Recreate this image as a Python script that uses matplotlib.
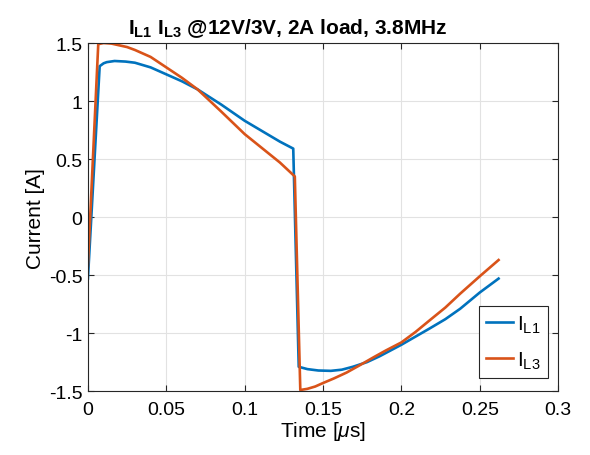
import matplotlib
matplotlib.use("Agg")
import matplotlib.pyplot as plt

# time in microseconds, current in amps
t_l1 = [0.0, 0.0075, 0.01, 0.012, 0.017, 0.024, 0.03, 0.04, 0.05, 0.06,
        0.07, 0.085, 0.1, 0.115, 0.1225, 0.131, 0.1345, 0.14, 0.147,
        0.155, 0.162, 0.169, 0.178, 0.186, 0.193, 0.2, 0.209, 0.218,
        0.228, 0.2375, 0.25, 0.262]
i_l1 = [-0.53, 1.30, 1.325, 1.335, 1.345, 1.34, 1.33, 1.29, 1.23, 1.17,
        1.10, 0.97, 0.83, 0.71, 0.65, 0.59, -1.29, -1.31, -1.322,
        -1.325, -1.315, -1.29, -1.25, -1.20, -1.15, -1.10, -1.03, -0.96,
        -0.88, -0.79, -0.65, -0.53]

t_l3 = [0.0, 0.0066, 0.01, 0.015, 0.02, 0.025, 0.03, 0.04, 0.05, 0.06,
        0.07, 0.085, 0.1, 0.1225, 0.132, 0.1355, 0.14, 0.145, 0.15,
        0.157, 0.165, 0.173, 0.182, 0.19, 0.2, 0.209, 0.218, 0.228,
        0.2375, 0.25, 0.262]
i_l3 = [-0.42, 1.49, 1.50, 1.495, 1.48, 1.465, 1.44, 1.38, 1.29, 1.20,
        1.10, 0.91, 0.715, 0.47, 0.35, -1.49, -1.48, -1.46, -1.43,
        -1.39, -1.34, -1.28, -1.21, -1.15, -1.08, -0.99, -0.89, -0.78,
        -0.66, -0.51, -0.37]

xticks = [0, 0.05, 0.1, 0.15, 0.2, 0.25, 0.3]
xticklabels = ["0", "0.05", "0.1", "0.15", "0.2", "0.25", "0.3"]
yticks = [-1.5, -1, -0.5, 0, 0.5, 1, 1.5]
yticklabels = ["-1.5", "-1", "-0.5", "0", "0.5", "1", "1.5"]

plt.rcParams["font.family"] = ["Liberation Sans", "DejaVu Sans"]
plt.rcParams["mathtext.fontset"] = "custom"
plt.rcParams["mathtext.rm"] = "Liberation Sans"
plt.rcParams["mathtext.it"] = "Liberation Sans:italic"
plt.rcParams["mathtext.bf"] = "Liberation Sans:bold"

fig = plt.figure(figsize=(5.9, 4.56), dpi=100)
ax = fig.add_axes([0.149, 0.140, 0.797, 0.7635])

ax.plot(t_l1, i_l1, color="#0072BD", lw=1.9, label=r"I$_{\mathrm{L1}}$")
ax.plot(t_l3, i_l3, color="#D95319", lw=1.9, label=r"I$_{\mathrm{L3}}$")

ax.set_xlim(0, 0.3)
ax.set_ylim(-1.5, 1.5)
ax.set_xticks(xticks, xticklabels)
ax.set_yticks(yticks, yticklabels)
ax.grid(True, color="#e2e2e2", lw=0.8)
ax.set_axisbelow(True)
ax.tick_params(direction="in", top=True, right=True, labelsize=14,
               length=4, width=0.8, color="#262626")
ax.tick_params(axis="x", pad=7)
ax.tick_params(axis="y", pad=4)
for s in ax.spines.values():
    s.set_color("#262626")
    s.set_linewidth(0.8)

ax.set_xlabel(r"Time [$\mu$s]", fontsize=15, labelpad=1)
ax.set_ylabel("Current [A]", fontsize=15, labelpad=3)
# the title in the reference sits left of the axes centre
ax.set_title(r"I$_{\mathbf{L1}}$ I$_{\mathbf{L3}}$ @12V/3V, 2A load, 3.8MHz",
             fontsize=15, fontweight="bold", pad=7, x=(288 - 88) / 470)

leg = ax.legend(loc="lower right", fontsize=15, fancybox=False,
                framealpha=1, edgecolor="#262626", borderaxespad=0,
                bbox_to_anchor=(548 / 590, 77 / 456),
                bbox_transform=fig.transFigure,
                handlelength=1.3, handletextpad=0.2, borderpad=0.35,
                labelspacing=0.7)
leg.get_frame().set_linewidth(0.8)

fig.savefig("out.png", dpi=100)
